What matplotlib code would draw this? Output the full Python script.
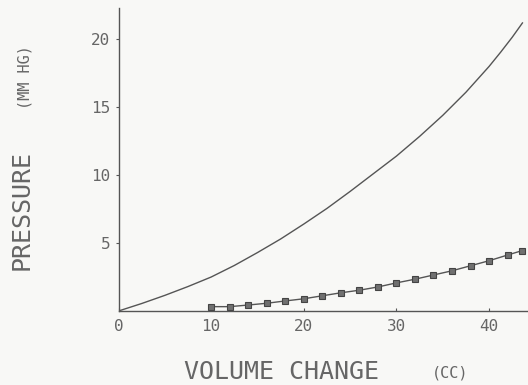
import numpy as np
from matplotlib import pyplot as plt

# upper curve
curve_x = [0, 2.5, 5, 7.5, 10, 12.5, 15, 17.5, 20, 22.5, 25, 27.5, 30,
           32.5, 35, 37.5, 40, 41.25, 42.5, 43.6]
curve_y = [0, 0.55, 1.15, 1.8, 2.5, 3.35, 4.3, 5.3, 6.4, 7.55, 8.8, 10.1,
           11.4, 12.85, 14.4, 16.1, 18.0, 19.05, 20.15, 21.2]

# lower series with square markers
meas_x = [10, 12, 14, 16, 18, 20, 22, 24, 26, 28, 30, 32, 34, 36, 38, 40, 42, 43.5]
meas_y = [0.32, 0.32, 0.44, 0.57, 0.74, 0.9, 1.12, 1.34, 1.53, 1.77, 2.07,
          2.34, 2.65, 2.96, 3.33, 3.70, 4.12, 4.43]

x_ticks = [0, 10, 20, 30, 40]
x_ticklabels = ['0', '10', '20', '30', '40']
y_ticks = [5, 10, 15, 20]
y_ticklabels = ['5', '10', '15', '20']

ink = '#555555'
text_ink = '#666666'
paper = '#f8f8f6'
mono = 'DejaVu Sans Mono'

fig = plt.figure(figsize=(5.28, 3.85), dpi=100, facecolor=paper)
ax = fig.add_axes([118.5 / 528, 1 - 311 / 385, 1 - 118.5 / 528, (311 - 8) / 385])
ax.set_facecolor(paper)

ax.plot(curve_x, curve_y, color=ink, lw=1.0)
ax.plot(meas_x, meas_y, color=ink, lw=1.0, marker='s', ms=4.2,
        mfc='#707070', mec='#444444', mew=0.8)

ax.set_xlim(0, 44.2)
ax.set_ylim(0, 22.3)

for s in ['top', 'right']:
    ax.spines[s].set_visible(False)
for s in ['left', 'bottom']:
    ax.spines[s].set_color(ink)
    ax.spines[s].set_linewidth(1.0)

ax.set_xticks(x_ticks)
ax.set_xticklabels(x_ticklabels, family=mono, fontsize=11.5, color=text_ink)
ax.set_yticks(y_ticks)
ax.set_yticklabels(y_ticklabels, family=mono, fontsize=11.5, color=text_ink)
ax.tick_params(axis='x', direction='in', length=2, color=ink, pad=6)
ax.tick_params(axis='y', direction='out', length=2, color=ink, pad=4)

# axis titles
fig.text(22 / 528, 1 - 210 / 385, 'PRESSURE', rotation=90, family=mono,
         fontsize=18, color=text_ink, ha='center', va='center')
fig.text(25 / 528, 1 - 77 / 385, '(MM HG)', rotation=90, family=mono,
         fontsize=11, color=text_ink, ha='center', va='center')
fig.text(282 / 528, 1 - 372 / 385, 'VOLUME CHANGE', family=mono,
         fontsize=18, color=text_ink, ha='center', va='center')
fig.text(450 / 528, 1 - 373 / 385, '(CC)', family=mono,
         fontsize=11, color=text_ink, ha='center', va='center')

fig.savefig('out.png', dpi=100, facecolor=paper)
